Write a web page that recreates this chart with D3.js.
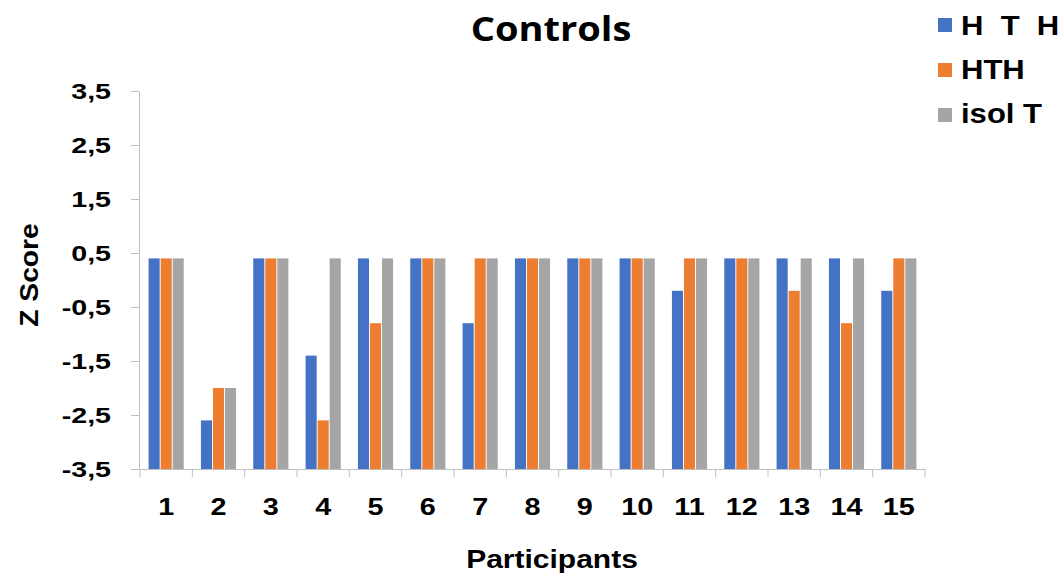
<!DOCTYPE html>
<html>
<head>
<meta charset="utf-8">
<script src="https://cdn.jsdelivr.net/npm/d3@7/dist/d3.min.js"></script>
<style>
  body { margin: 0; background: #fff; }
  text { font-family: "Liberation Sans", Arial, sans-serif; font-weight: bold; fill: #000; }
</style>
</head>
<body>
<div id="chart"></div>
<script>
var participants = ["1","2","3","4","5","6","7","8","9","10","11","12","13","14","15"]
var seriesNames = ["H T H", "HTH", "isol T"]
var seriesLabels = ["H  T  H", "HTH", "isol T"]
var seriesColours = ["#4472C4", "#ED7D31", "#A5A5A5"]
var hthSpaced = [0.4, -2.6, 0.4, -1.4, 0.4, 0.4, -0.8, 0.4, 0.4, 0.4, -0.2, 0.4, 0.4, 0.4, -0.2]
var hth = [0.4, -2.0, 0.4, -2.6, -0.8, 0.4, 0.4, 0.4, 0.4, 0.4, 0.4, 0.4, -0.2, -0.8, 0.4]
var isolT = [0.4, -2.0, 0.4, 0.4, 0.4, 0.4, 0.4, 0.4, 0.4, 0.4, 0.4, 0.4, 0.4, 0.4, 0.4]
var yTicks = [-3.5, -2.5, -1.5, -0.5, 0.5, 1.5, 2.5, 3.5]

var width = 1064
var height = 580
var seriesValues = [hthSpaced, hth, isolT]

var svg = d3.select("#chart")
    .append("svg")
        .attr("width", width)
        .attr("height", height)

// the source picture is stretched sideways, so text gets a horizontal scale
function putText(x, y, k, size, anchor, str, rot){
    return svg.append("text")
        .attr("transform", "translate(" + x + "," + y + ")" + (rot ? " rotate(" + rot + ")" : "") + " scale(" + k + ",1)")
        .attr("text-anchor", anchor)
        .style("font-size", size + "px")
        .style("white-space", "pre")
        .text(str)
}

var x = d3.scaleBand()
    .domain(participants)
    .range([140, 925])

var x1 = d3.scaleBand()
    .domain(seriesNames)
    .range([8.6, x.bandwidth() - 8.6])
    .paddingInner(0.08)

var y = d3.scaleLinear()
    .domain([-3.5, 3.5])
    .range([469, 91])

// y axis
var yAxis = svg.append("g")
    .attr("transform", "translate(139,0)")
    .call(d3.axisLeft(y).tickValues(yTicks).tickSize(8).tickSizeOuter(0).tickFormat(""))
yAxis.select(".domain").attr("stroke", "#bfbfbf")
yAxis.selectAll(".tick line").attr("stroke", "#bfbfbf")
yTicks.forEach(function(t){
    putText(111, y(t) + 8, 1.3, 22, "end", String(t).replace(".", ","))
})

// x axis
var xAxis = svg.append("g")
    .attr("transform", "translate(0,469)")
    .call(d3.axisBottom(x).tickSize(0).tickSizeOuter(0).tickFormat(""))
xAxis.select(".domain").attr("stroke", "#bfbfbf")
participants.forEach(function(p){
    putText(x(p) + x.bandwidth() / 2, 515, 1.2, 24, "middle", p)
})

var bounds = participants.map(function(p){ return x(p) }).concat([x.range()[1]])
svg.append("g").selectAll("line")
    .data(bounds)
    .enter()
    .append("line")
        .attr("x1", function(d){ return d })
        .attr("x2", function(d){ return d })
        .attr("y1", 469)
        .attr("y2", 477)
        .attr("stroke", "#bfbfbf")

// bars
var groups = svg.append("g").selectAll("g")
    .data(participants)
    .enter()
    .append("g")
        .attr("transform", function(p){ return "translate(" + x(p) + ",0)" })

groups.selectAll("rect")
    .data(function(p, i){
        return seriesNames.map(function(s, k){ return {s: s, k: k, v: seriesValues[k][i]} })
    })
    .enter()
    .append("rect")
        .attr("x", function(d){ return x1(d.s) })
        .attr("width", x1.bandwidth())
        .attr("y", function(d){ return y(d.v) })
        .attr("height", function(d){ return y(-3.5) - y(d.v) })
        .attr("fill", function(d){ return seriesColours[d.k] })

// titles
putText(551, 41, 1.12, 34, "middle", "Controls")
    .style("font-family", "'Open Sans', sans-serif")
putText(552, 568, 1.2, 25, "middle", "Participants")
putText(38, 275, 1.13, 25, "middle", "Z Score", -90)

// legend
seriesNames.forEach(function(s, i){
    svg.append("rect")
        .attr("x", 938)
        .attr("y", 18 + i * 45)
        .attr("width", 14)
        .attr("height", 14)
        .attr("fill", seriesColours[i])
    putText(961, 35 + i * 44, 1.15, 27, "start", seriesLabels[i])
})
</script>
</body>
</html>
